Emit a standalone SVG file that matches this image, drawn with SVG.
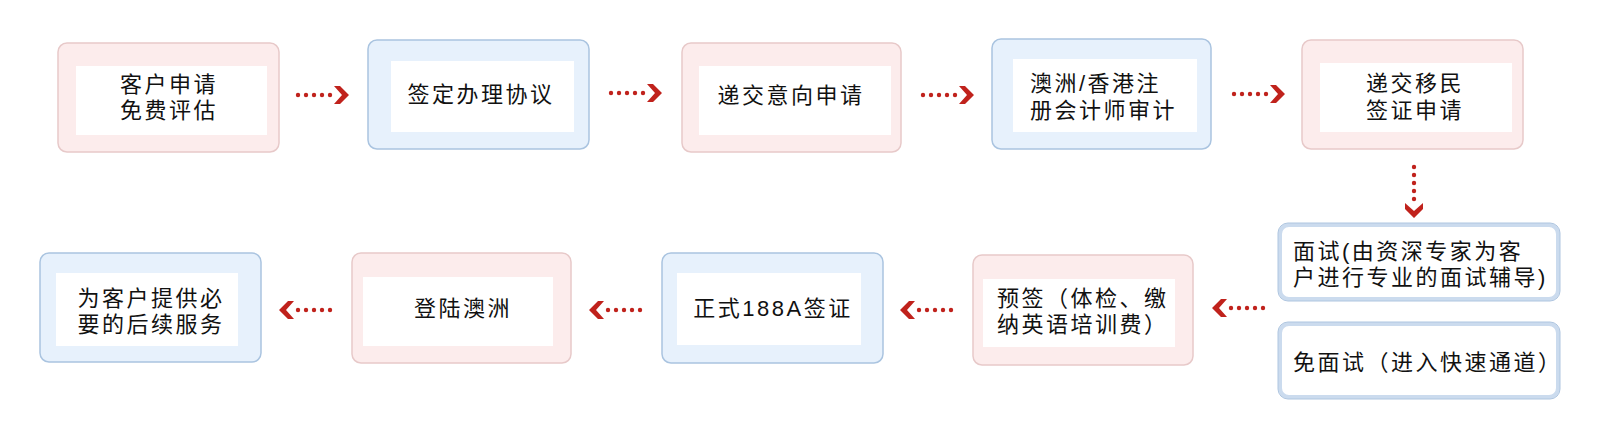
<svg xmlns="http://www.w3.org/2000/svg" xmlns:xlink="http://www.w3.org/1999/xlink" width="1600" height="427" viewBox="0 0 1600 427">
<style>
  .pink { fill: #fcecec; stroke: #e7c9c9; stroke-width: 1.5; }
  .blue { fill: #e7f1fc; stroke: #aac4e0; stroke-width: 1.5; }
  .inner { fill: #ffffff; }
  .side { fill: #ffffff; stroke: #cbdbee; stroke-width: 4; }
  .side2 { fill: none; stroke: #afc6e0; stroke-width: 1; }
  .t { font-family: "Liberation Sans", "Noto Sans CJK SC", sans-serif; font-size: 22px; letter-spacing: 2.5px; fill: #111111; dominant-baseline: central; }
  .c { text-anchor: middle; }
  .s { text-anchor: start; }
</style>
<defs>
  <g id="arr">
    <circle cx="2" cy="0" r="2.2" fill="#c0221c"/>
    <circle cx="10" cy="0" r="2.2" fill="#c0221c"/>
    <circle cx="18" cy="0" r="2.2" fill="#c0221c"/>
    <circle cx="26" cy="0" r="2.2" fill="#c0221c"/>
    <circle cx="34" cy="0" r="2.2" fill="#c0221c"/>
    <polygon points="38,-9 44,-9 53,0 44,9 38,9 46,0" fill="#c0221c"/>
  </g>
</defs>
<rect x="0" y="0" width="1600" height="427" fill="#ffffff"/>

<g id="n1">
  <rect class="pink" x="58" y="43" width="221" height="109" rx="9"/>
  <rect class="inner" x="76" y="66" width="191" height="69"/>
  <text class="t c" x="169" y="84">客户申请<tspan x="169" dy="26">免费评估</tspan></text>
</g>
<g id="n2">
  <rect class="blue" x="368" y="40" width="221" height="109" rx="9"/>
  <rect class="inner" x="391" y="61" width="183" height="71"/>
  <text class="t c" x="481" y="94">签定办理协议</text>
</g>
<g id="n3">
  <rect class="pink" x="682" y="43" width="219" height="109" rx="9"/>
  <rect class="inner" x="699" y="66" width="192" height="69"/>
  <text class="t c" x="791" y="95">递交意向申请</text>
</g>
<g id="n4">
  <rect class="blue" x="992" y="39" width="219" height="110" rx="9"/>
  <rect class="inner" x="1013" y="59" width="184" height="73"/>
  <text class="t s" x="1030" y="83">澳洲/香港注<tspan x="1030" dy="27">册会计师审计</tspan></text>
</g>
<g id="n5">
  <rect class="pink" x="1302" y="40" width="221" height="109" rx="9"/>
  <rect class="inner" x="1320" y="63" width="192" height="69"/>
  <text class="t c" x="1415" y="83">递交移民<tspan x="1415" dy="27">签证申请</tspan></text>
</g>
<g id="n6">
  <rect class="side" x="1280" y="225" width="278" height="74" rx="9"/>
  <rect class="side2" x="1278" y="223" width="282" height="78" rx="10"/>
  <text class="t s" x="1293" y="251">面试(由资深专家为客<tspan x="1293" dy="26">户进行专业的面试辅导)</tspan></text>
</g>
<g id="n7">
  <rect class="side" x="1280" y="324" width="278" height="73" rx="9"/>
  <rect class="side2" x="1278" y="322" width="282" height="77" rx="10"/>
  <text class="t s" x="1293" y="362">免面试（进入快速通道）</text>
</g>
<g id="n8">
  <rect class="pink" x="973" y="255" width="220" height="110" rx="9"/>
  <rect class="inner" x="983" y="279" width="192" height="68"/>
  <text class="t s" x="997" y="298">预签（体检、缴<tspan x="997" dy="26">纳英语培训费）</tspan></text>
</g>
<g id="n9">
  <rect class="blue" x="662" y="253" width="221" height="110" rx="9"/>
  <rect class="inner" x="677" y="273" width="184" height="72"/>
  <text class="t c" x="773" y="308">正式188A签证</text>
</g>
<g id="n10">
  <rect class="pink" x="352" y="253" width="219" height="110" rx="9"/>
  <rect class="inner" x="363" y="277" width="190" height="69"/>
  <text class="t c" x="463" y="308">登陆澳洲</text>
</g>
<g id="n11">
  <rect class="blue" x="40" y="253" width="221" height="109" rx="9"/>
  <rect class="inner" x="56" y="273" width="182" height="73"/>
  <text class="t c" x="151" y="298">为客户提供必<tspan x="151" dy="26">要的后续服务</tspan></text>
</g>

<g id="connectors">
  <use xlink:href="#arr" transform="translate(296,95)"/>
  <use xlink:href="#arr" transform="translate(609,93)"/>
  <use xlink:href="#arr" transform="translate(921,95)"/>
  <use xlink:href="#arr" transform="translate(1232,94)"/>
  <use xlink:href="#arr" transform="translate(1414,165) rotate(90)"/>
  <use xlink:href="#arr" transform="translate(1265,308) scale(-1,1)"/>
  <use xlink:href="#arr" transform="translate(953,310) scale(-1,1)"/>
  <use xlink:href="#arr" transform="translate(642,310) scale(-1,1)"/>
  <use xlink:href="#arr" transform="translate(332,310) scale(-1,1)"/>
</g>
</svg>
